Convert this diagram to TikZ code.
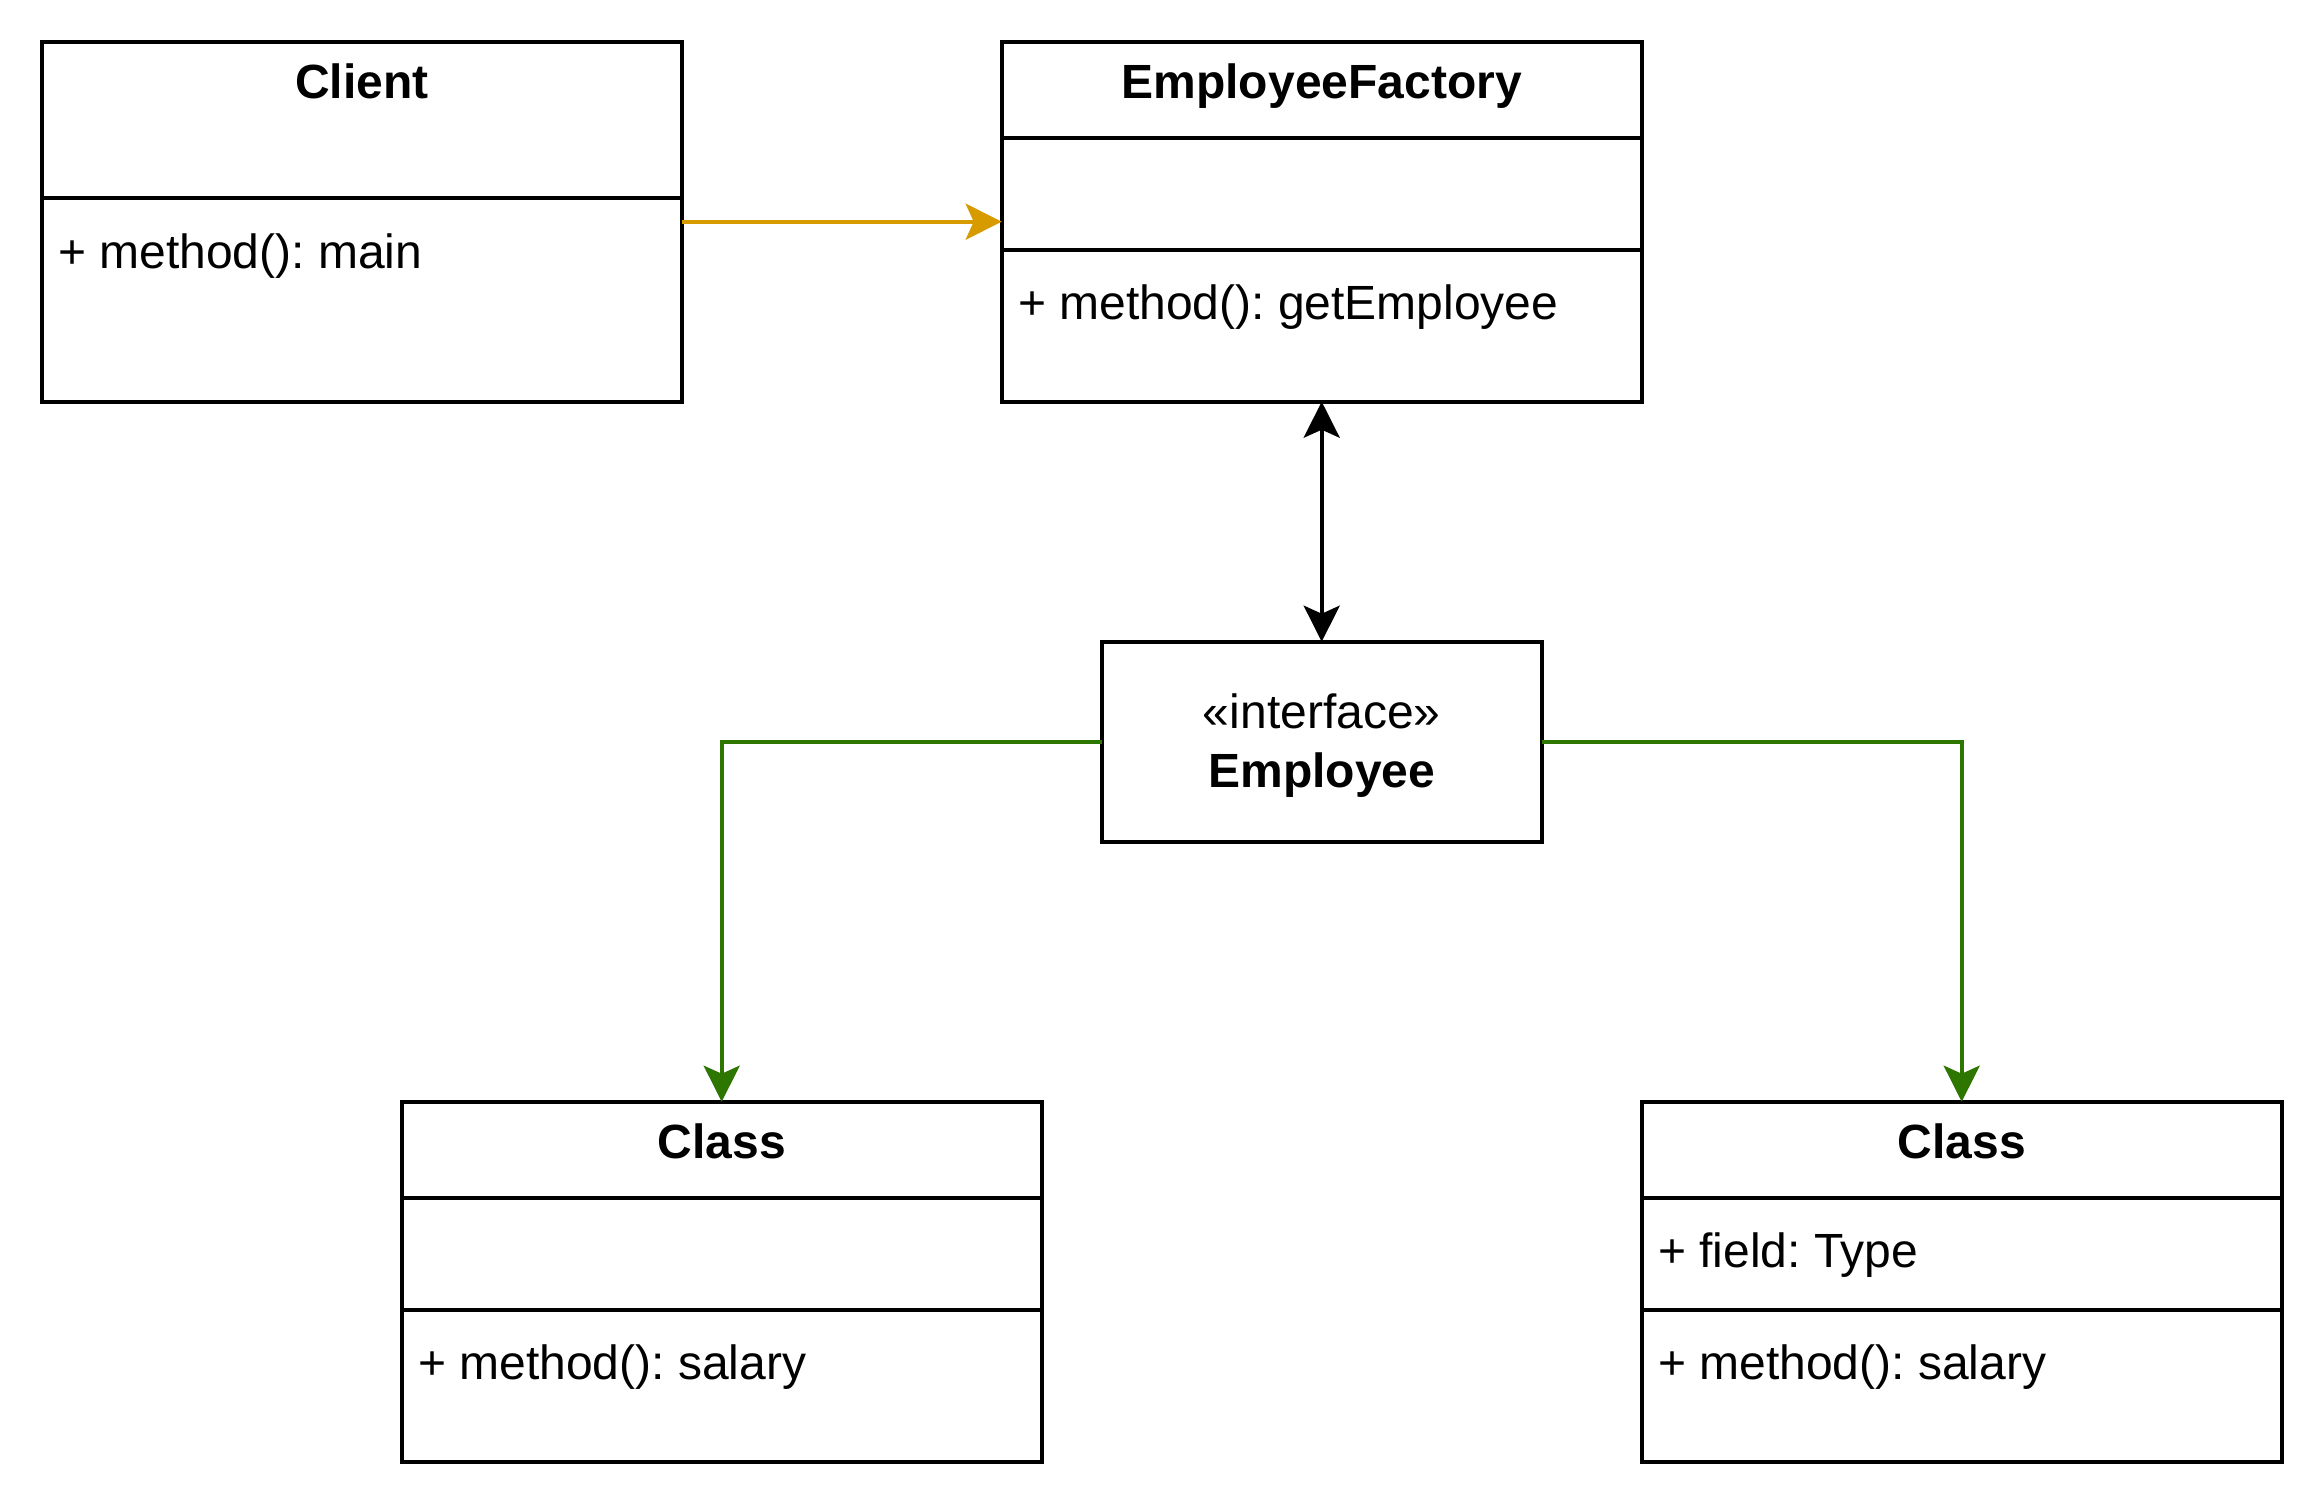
\documentclass[tikz,border=0pt]{standalone}
\usepackage{fontspec}
\setmainfont{Liberation Sans}
\frenchspacing
\usetikzlibrary{arrows.meta}
\definecolor{arrorange}{HTML}{D79B00}
\definecolor{arrgreen}{HTML}{2D7600}
\begin{document}
\begin{tikzpicture}[x=0.5pt, y=-0.5pt,
  boxline/.style={line width=2.1pt},
  umlbox/.style={draw, boxline, anchor=north west, inner sep=0pt, outer sep=0pt, minimum width=320pt, minimum height=180pt},
  title/.style={anchor=base, inner sep=0pt, font=\fontsize{24}{29}\selectfont\bfseries},
  member/.style={anchor=base west, inner sep=0pt, font=\fontsize{24}{29}\selectfont},
  conn/.style={line width=2pt, -{Stealth[length=18pt,width=18pt,inset=4pt]}},
  dconn/.style={line width=2pt, {Stealth[length=18pt,width=18pt,inset=4pt]}-{Stealth[length=18pt,width=18pt,inset=4pt]}},
]
\fill[white] (0,0) rectangle (2324,1508);
\useasboundingbox (0,0) rectangle (2324,1508);

% boxes
\node[umlbox] (client) at (41.7,41.7) {};
\node[umlbox] (factory) at (1001.7,41.7) {};
\node[umlbox] (classA) at (401.7,1101.7) {};
\node[umlbox] (classB) at (1641.7,1101.7) {};
\node[draw, boxline, minimum width=220pt, minimum height=100pt, inner sep=0pt, outer sep=0pt, align=center,
      font=\fontsize{24}{29.5}\selectfont] (employee) at (1321.7,741.7) {};
\node[inner sep=0pt, align=center, font=\fontsize{24}{29.5}\selectfont, yshift=-2pt] (employeeText) at (employee.center) {«interface»\\\textbf{Employee}};

% dividers
\draw[boxline] (client.west |- 0,197.7) -- (client.east |- 0,197.7);
\draw[boxline] (factory.west |- 0,137.7) -- (factory.east |- 0,137.7);
\draw[boxline] (factory.west |- 0,249.7) -- (factory.east |- 0,249.7);
\draw[boxline] (classA.west |- 0,1197.7) -- (classA.east |- 0,1197.7);
\draw[boxline] (classA.west |- 0,1309.7) -- (classA.east |- 0,1309.7);
\draw[boxline] (classB.west |- 0,1197.7) -- (classB.east |- 0,1197.7);
\draw[boxline] (classB.west |- 0,1309.7) -- (classB.east |- 0,1309.7);

% titles
\node[title] (clientTitle) at (361.7,99) {Client};
\node[title] (factoryTitle) at (1321.7,99) {EmployeeFactory};
\node[title] (classATitle) at (721.7,1158) {Class};
\node[title] (classBTitle) at (1961.7,1158) {Class};

% members
\node[member] (clientM) at (57.7,269) {+ method(): main};
\node[member] (factoryM) at (1017.7,320) {+ method(): getEmployee};
\node[member] (classAM) at (417.7,1379) {+ method(): salary};
\node[member] (classBF) at (1657.7,1267.7) {+ field: Type};
\node[member] (classBM) at (1657.7,1379) {+ method(): salary};

% connectors
\draw[conn, arrorange] (client.east) -- (factory.west);
\draw[dconn, black] (factory.south) -- (employee.north);
\draw[conn, arrgreen] (employee.west) -| (classA.north);
\draw[conn, arrgreen] (employee.east) -| (classB.north);
\end{tikzpicture}
\end{document}
